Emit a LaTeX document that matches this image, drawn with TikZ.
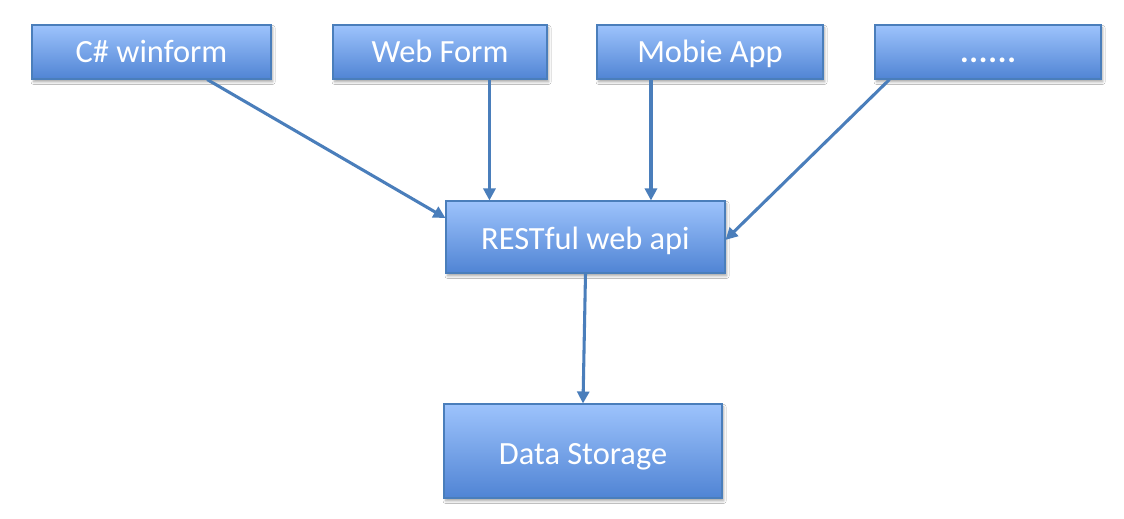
\documentclass[tikz,border=0pt]{standalone}
\usepackage{fontspec}
\setmainfont{Carlito}
\usetikzlibrary{arrows.meta,shadows.blur,calc}
\definecolor{boxtop}{RGB}{157,195,252}
\definecolor{boxbot}{RGB}{80,132,212}
\definecolor{boxline}{RGB}{74,126,187}
\definecolor{arrowc}{RGB}{74,126,187}
\tikzset{
  box/.style={rectangle, draw=boxline, line width=0.8pt, top color=boxtop, bottom color=boxbot,
    text=white, font=\fontsize{24.3}{26}\selectfont, inner sep=0pt,
    blur shadow={shadow blur steps=6, shadow xshift=1.2pt, shadow yshift=-2.2pt, shadow opacity=35}},
  conn/.style={draw=arrowc, line width=2.3pt, -{Triangle[length=9pt,width=9pt]}}
}
\begin{document}
\begin{tikzpicture}[x=0.75pt,y=-0.75pt]
\useasboundingbox[fill=white] (0,0) rectangle (1124,518);
\node[box, minimum width=179.25pt, minimum height=40.5pt, text height=15.5pt, text depth=0pt] (cw) at (151.5,52) {C\# winform};
\node[box, minimum width=160.5pt, minimum height=40.5pt, text height=15.5pt, text depth=0pt] (wf) at (440,52) {Web Form};
\node[box, minimum width=169.5pt, minimum height=40.5pt, text height=15.5pt, text depth=0pt] (ma) at (710,52) {Mobie App};
\node[box, minimum width=169.5pt, minimum height=40.5pt, text height=15.5pt, text depth=0pt] (dt) at (988,52) {\bfseries .\kern0.6pt.\kern0.6pt.\kern0.6pt.\kern0.6pt.\kern0.6pt.};
\node[box, minimum width=209.25pt, minimum height=54pt, text height=18pt, text depth=0pt] (rest) at (585.5,237) {RESTful web api};
\node[box, minimum width=208.5pt, minimum height=70.5pt, text height=20.5pt, text depth=0pt] (ds) at (583,451) {Data Storage};
\coordinate (c1) at ($(cw.south west)!0.732!(cw.south east)$);
\coordinate (r1) at ($(rest.north west)!0.24!(rest.south west)$);
\coordinate (w1) at ($(wf.south west)!0.73!(wf.south east)$);
\coordinate (m1) at ($(ma.south west)!0.24!(ma.south east)$);
\coordinate (d1) at ($(dt.south west)!0.066!(dt.south east)$);
\coordinate (r2) at ($(rest.north east)!0.54!(rest.south east)$);
\draw[conn] (c1) -- (r1);
\draw[conn] (w1) -- (w1 |- rest.north);
\draw[conn] (m1) -- (m1 |- rest.north);
\draw[conn] (d1) -- (r2);
\draw[conn] (rest.south) -- (ds.north);
\end{tikzpicture}
\end{document}
